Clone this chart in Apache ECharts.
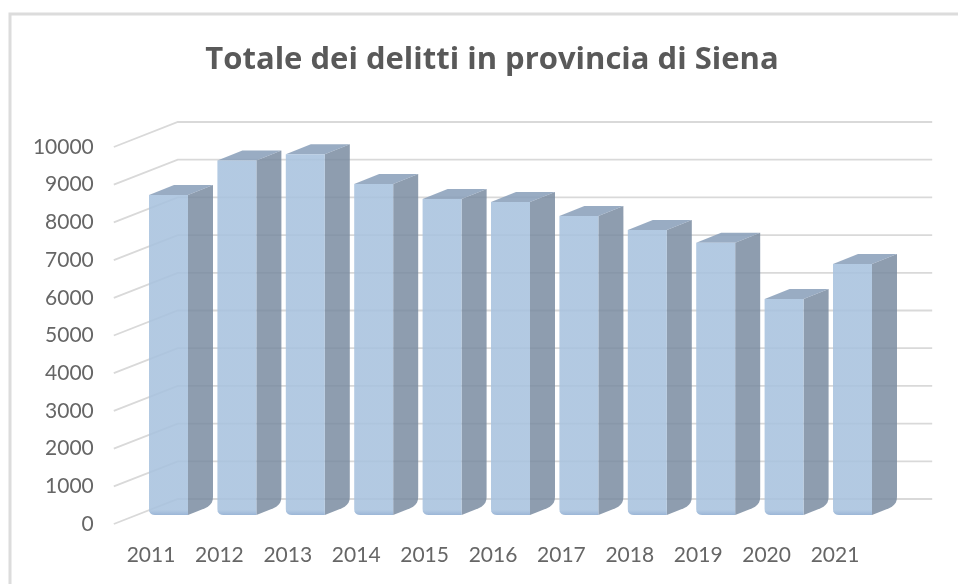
<!DOCTYPE html>
<html>
<head>
<meta charset="utf-8">
<style>
html,body{margin:0;padding:0;background:#fff;overflow:hidden}
#chart{width:958px;height:584px;filter:blur(0.6px)}
</style>
<script src="https://cdn.jsdelivr.net/npm/echarts@6/dist/echarts.min.js"></script>
</head>
<body>
<div id="chart"></div>
<script>
const years = ['2011','2012','2013','2014','2015','2016','2017','2018','2019','2020','2021'];
const delitti = [8490,9400,9570,8780,8380,8300,7930,7560,7220,5730,6660];
const valueTicks = [0,1000,2000,3000,4000,5000,6000,7000,8000,9000,10000];
const titleText = 'Totale dei delitti in provincia di Siena';

const FONT = 'Lato';
const TEXT = '#666666';
const GRIDC = '#d9d9d9';
const DEPTH_X = 25, DEPTH_Y = 10;
const WALL_X = 64, WALL_Y = 25;
const BAR_W = 39;

function corner(cx, cy, px, py, qx, qy) {
  const out = [];
  for (let k = 0; k <= 5; k++) {
    const t = k / 5, u = 1 - t;
    out.push([u*u*px + 2*u*t*cx + t*t*qx, u*u*py + 2*u*t*cy + t*t*qy]);
  }
  return out;
}

function renderGrid(params, api) {
  const p = api.coord([0, api.value(1)]);
  const cs = params.coordSys;
  const x0 = cs.x - 3;
  const y = p[1];
  return {
    type: 'polyline',
    shape: { points: [[x0, y], [x0 + WALL_X, y - WALL_Y], [cs.x + cs.width + 63, y - WALL_Y]] },
    style: { stroke: GRIDC, lineWidth: 1.8, fill: 'none' },
    silent: true
  };
}

function renderBar(params, api) {
  const idx = api.value(0);
  const top = api.coord([idx, api.value(1)]);
  const base = api.coord([idx, 0]);
  const x0 = top[0] - 2;
  const x1 = x0 + BAR_W;
  const yt = top[1] - 9;
  const yb = base[1] - 9;
  const r = 6;
  const front = [[x0, yt], [x1, yt], [x1, yb]]
    .concat(corner(x0, yb, x0 + r, yb, x0, yb - r));
  const bx = x1 + DEPTH_X, by = yb - DEPTH_Y;
  const side = [[x1, yt], [bx, yt - DEPTH_Y]]
    .concat(corner(bx, by, bx, by - 8, bx - 8, by + 3.2))
    .concat([[x1, yb]]);
  const lid = [[x0, yt], [x0 + DEPTH_X, yt - DEPTH_Y], [bx, yt - DEPTH_Y], [x1, yt]];
  const h = yb - yt;
  return {
    type: 'group',
    children: [
      { type: 'polygon', shape: { points: side }, style: { fill: 'rgba(120,138,160,0.84)' } },
      { type: 'polygon', shape: { points: lid }, style: { fill: 'rgba(135,157,184,0.85)' } },
      { type: 'polygon', shape: { points: front }, style: {
          fill: new echarts.graphic.LinearGradient(0, 0, 0, 1, [
            { offset: 0, color: 'rgba(168,194,222,0.88)' },
            { offset: 1 - 5 / h, color: 'rgba(168,194,222,0.88)' },
            { offset: 1, color: 'rgba(150,178,212,0.95)' }
          ])
      } }
    ]
  };
}

const chart = echarts.init(document.getElementById('chart'), null, { renderer: 'canvas' });
chart.setOption({
  animation: false,
  backgroundColor: '#ffffff',
  title: {
    text: titleText,
    left: 487, top: 40, textAlign: 'center',
    textStyle: { fontFamily: 'Open Sans', fontWeight: 'bold', fontSize: 31, color: '#595959' }
  },
  graphic: [{
    type: 'polyline',
    shape: { points: [[10, 584], [10, 14], [958, 14]] },
    style: { stroke: '#dcdcdc', lineWidth: 3, fill: 'none' }
  }],
  grid: { left: 116.8, width: 752.4, top: 147, height: 377 },
  xAxis: {
    type: 'category',
    data: years,
    axisLine: { show: false },
    axisTick: { show: false },
    axisLabel: { fontFamily: FONT, fontSize: 21, color: TEXT, margin: 21, interval: 0 }
  },
  yAxis: {
    type: 'value',
    min: 0, max: 10000, interval: 1000,
    axisLine: { show: false },
    axisTick: { show: false },
    splitLine: { show: false },
    axisLabel: { fontFamily: FONT, fontSize: 21, color: TEXT, margin: 23, formatter: v => String(v) }
  },
  series: [
    {
      type: 'custom', name: 'griglia', clip: false, silent: true, z: 1,
      renderItem: renderGrid,
      encode: { x: 0, y: 1 },
      data: valueTicks.map(v => [0, v])
    },
    {
      type: 'custom', name: 'Delitti', clip: false, z: 2,
      renderItem: renderBar,
      encode: { x: 0, y: 1 },
      data: delitti.map((v, i) => [i, v])
    }
  ]
});
</script>
</body>
</html>
